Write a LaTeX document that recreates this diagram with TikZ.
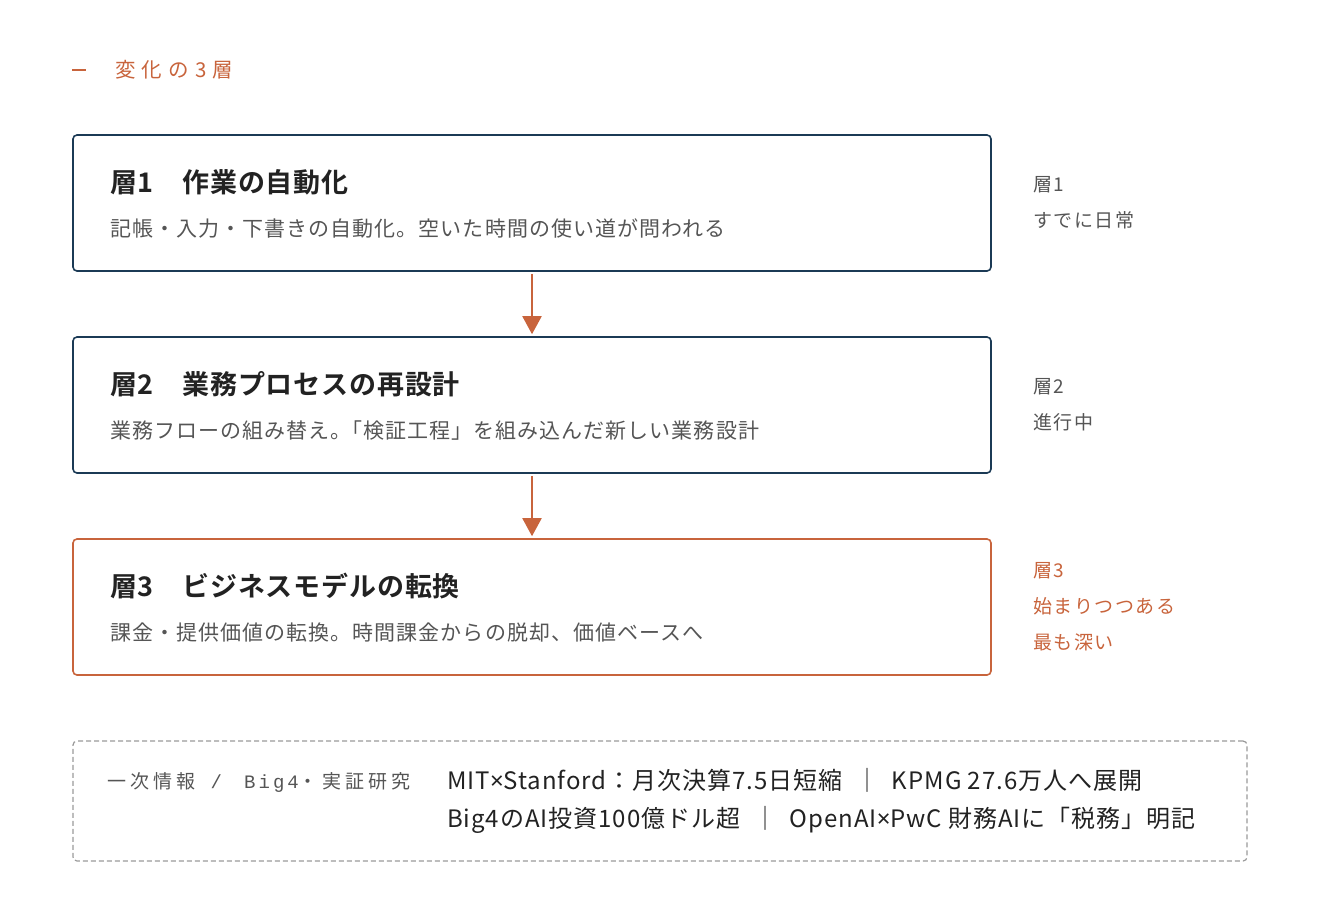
\documentclass[tikz,border=0pt]{standalone}
\usepackage{fontspec}
\usetikzlibrary{arrows.meta}
\newfontfamily\jp{Noto Sans CJK JP}
\newfontfamily\jpsrcl[LetterSpace=4]{Noto Sans CJK JP}
\newfontfamily\lat{Noto Sans}
\newfontfamily\jpb[LetterSpace=3]{Noto Sans CJK JP Bold}
\newfontfamily\jpsp[LetterSpace=5]{Noto Sans CJK JP}
\newfontfamily\jpside[LetterSpace=8]{Noto Sans CJK JP}
\newfontfamily\jphead[LetterSpace=30]{Noto Sans CJK JP}
\newfontfamily\jpsrc[LetterSpace=22]{Noto Sans CJK JP}
\newfontfamily\monosrc[LetterSpace=16]{Liberation Mono}
\definecolor{navy}{HTML}{1B3A55}
\definecolor{rust}{HTML}{C8643C}
\definecolor{txtgray}{HTML}{555555}
\definecolor{ink}{HTML}{222222}
\definecolor{dashgray}{HTML}{999999}
\newcommand{\mx}{{\lat ×}}
\begin{document}
\begin{tikzpicture}[x=1pt,y=-1pt,
  layerbox/.style={draw=navy,line width=1.6pt,rounded corners=4pt,minimum width=918pt,minimum height=136pt,inner sep=0pt},
  hotbox/.style={layerbox,draw=rust},
  srcbox/.style={draw=dashgray,line width=1.2pt,dash pattern=on 5pt off 3pt,rounded corners=4pt,minimum width=1174pt,minimum height=120pt,inner sep=0pt},
  ttl/.style={anchor=base west,inner sep=0pt,text=ink,font=\jpb\fontsize{27}{31}\selectfont},
  sub/.style={anchor=base west,inner sep=0pt,text=txtgray,font=\jpsp\fontsize{21}{25}\selectfont},
  side/.style={anchor=base west,inner sep=0pt,text=txtgray,font=\jpside\fontsize{19}{23}\selectfont},
  sidehot/.style={side,text=rust},
  srcline/.style={anchor=base west,inner sep=0pt,text=ink,font=\jpsrcl\fontsize{24}{28}\selectfont},
  arr/.style={draw=rust,line width=2pt,-{Triangle[length=18pt,width=19pt]},shorten <=2pt,shorten >=2pt}
]
\useasboundingbox (0,0) rectangle (1320,922);

% header
\coordinate (dashA) at (72,70);
\coordinate (dashB) at (86,70);
\draw[rust,line width=2pt] (dashA) -- (dashB);
\node[anchor=base west,inner sep=0pt,text=rust,font=\jphead\fontsize{20.5}{24}\selectfont] (head) at (115,77.5) {変化の3層};

% boxes
\node[layerbox] (box1) at (532,203) {};
\node[layerbox] (box2) at (532,405) {};
\node[hotbox] (box3) at (532,607) {};

\node[ttl] (t1) at (110,192) {層1　作業の自動化};
\node[sub] (s1) at (110,236) {記帳・入力・下書きの自動化。空いた時間の使い道が問われる};
\node[ttl] (t2) at (110,394) {層2　業務プロセスの再設計};
\node[sub] (s2) at (110,438) {業務フローの組み替え。\hspace{-10.5pt}「検証工程」を組み込んだ新しい業務設計};
\node[ttl] (t3) at (110,596) {層3　ビジネスモデルの転換};
\node[sub] (s3) at (110,640) {課金・提供価値の転換。時間課金からの脱却、価値ベースへ};

\draw[arr] (box1.south) -- (box2.north);
\draw[arr] (box2.south) -- (box3.north);

% side labels
\node[side] (r1a) at (1033,191) {層1};
\node[side] (r1b) at (1033,227) {すでに日常};
\node[side] (r2a) at (1033,393) {層2};
\node[side] (r2b) at (1033,429) {進行中};
\node[sidehot] (r3a) at (1033,577) {層3};
\node[sidehot] (r3b) at (1033,613) {始まりつつある};
\node[sidehot] (r3c) at (1033,649) {最も深い};

% sources
\node[srcbox] (src) at (660,801) {};
\node[anchor=base west,inner sep=0pt,text=txtgray,font=\fontsize{19}{22}\selectfont] (srclabel) at (107,788.5)
  {{\jpsrc 一次情報}\hspace{15pt}{\monosrc\fontsize{19}{22}\selectfont /\hspace{22pt}Big4}{\jpsrc ・実証研究}};
\node[srcline] (l1) at (447,789.5) {MIT\mx Stanford：月次決算7.5日短縮 \ ｜ \ KPMG 27.6万人へ展開};
\node[srcline] (l2) at (447,827.5) {Big4のAI投資100億ドル超 \ ｜ \ OpenAI\mx PwC 財務AIに「税務」明記};
\end{tikzpicture}
\end{document}
